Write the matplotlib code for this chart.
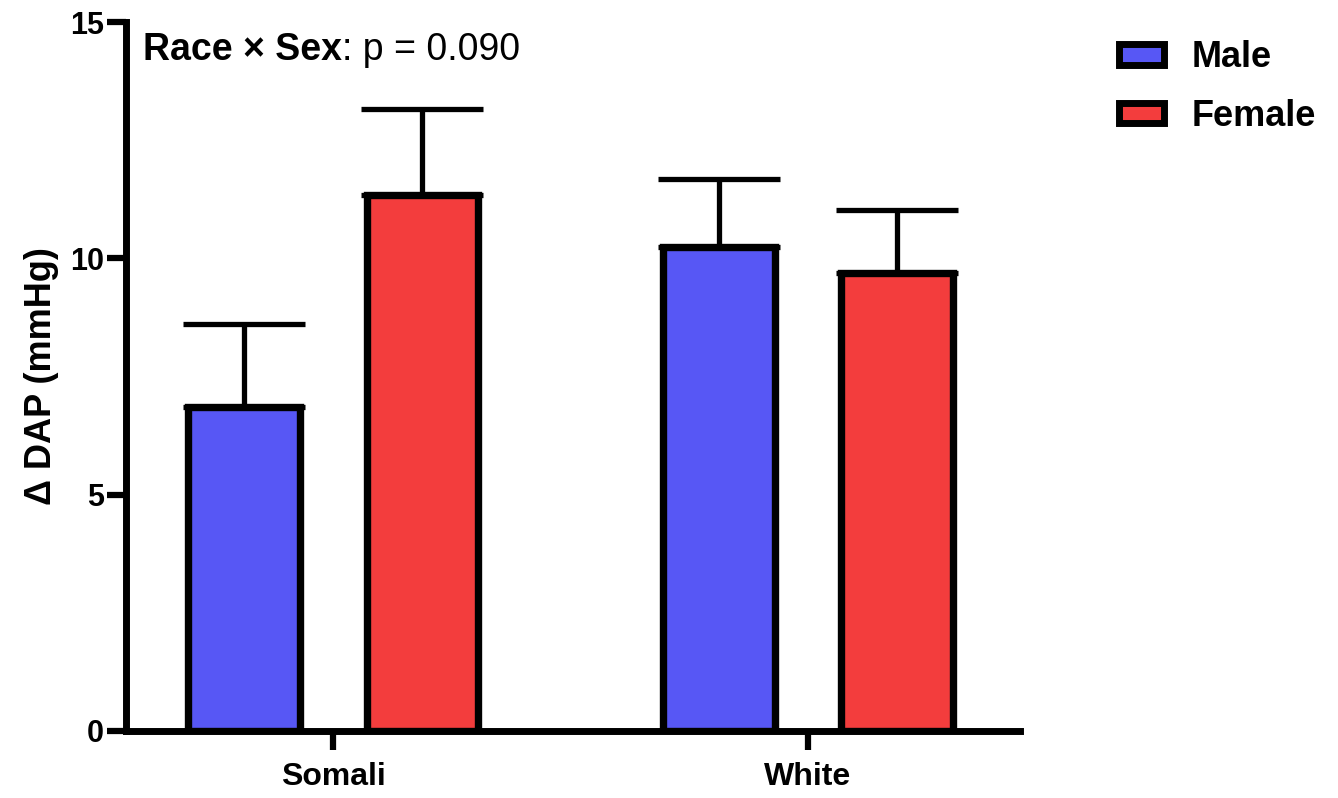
import numpy as np
import matplotlib.pyplot as plt
from matplotlib.patches import Patch

# group means and upper SEM for change in diastolic pressure
groups = ["Somali", "White"]
male_mean = [6.85, 10.25]
male_sem = [1.76, 1.42]
female_mean = [11.33, 9.69]
female_sem = [1.82, 1.33]

blue = "#5757F5"
red = "#F33D3D"

plt.rcParams['font.family'] = ['Liberation Sans', 'DejaVu Sans']

fig = plt.figure(figsize=(13.38, 7.98), dpi=100)
ax = fig.add_axes([0.0942, 0.084, 0.668, 0.8884])

x = np.arange(len(groups))
off = 0.1875
w = 0.234

# bars in front of the error bars so only the upper half shows
ax.bar(x - off, male_mean, w, color=blue, edgecolor="black", linewidth=5.3, zorder=3)
ax.bar(x + off, female_mean, w, color=red, edgecolor="black", linewidth=5.3, zorder=3)
ax.errorbar(x - off, male_mean, yerr=[[0, 0], male_sem], fmt="none", ecolor="black",
            elinewidth=3.8, capsize=44, capthick=3.8, zorder=2)
ax.errorbar(x + off, female_mean, yerr=[[0, 0], female_sem], fmt="none", ecolor="black",
            elinewidth=3.8, capsize=44, capthick=3.8, zorder=2)

ax.set_xlim(-0.436, 1.446)
ax.set_ylim(0, 15)
ax.set_yticks([0, 5, 10, 15])
ax.set_xticks(x)
ax.set_xticklabels(groups, fontweight="bold", fontsize=23)
for lab in ax.get_yticklabels():
    lab.set_fontweight("bold")
    lab.set_fontsize(22)

for s in ["top", "right"]:
    ax.spines[s].set_visible(False)
for s in ["left", "bottom"]:
    ax.spines[s].set_linewidth(5)
    ax.spines[s].set_capstyle("projecting")
ax.tick_params(axis="both", width=4.5, length=14, pad=2)
ax.tick_params(axis="x", pad=8)

ax.set_ylabel("Δ DAP (mmHg)", fontweight="bold", fontsize=26, labelpad=8)

# interaction p-value: bold term, then regular value on the same baseline
t1 = ax.text(-0.40, 14.2, "Race × Sex", fontsize=27, fontweight="bold",
             va="baseline", ha="left")
ax.annotate(": p = 0.090", xy=(1, 0), xycoords=t1, fontsize=27,
            va="bottom", ha="left")

handles = [Patch(facecolor=blue, edgecolor="black", linewidth=5),
           Patch(facecolor=red, edgecolor="black", linewidth=5)]
leg = fig.legend(handles, ["Male", "Female"], loc="upper left",
                 bbox_to_anchor=(0.812, 0.99), frameon=False,
                 prop={"weight": "bold", "size": 26},
                 handlelength=1.25, handleheight=0.5, handletextpad=0.75,
                 labelspacing=0.65)

fig.savefig("out.png", dpi=100)
